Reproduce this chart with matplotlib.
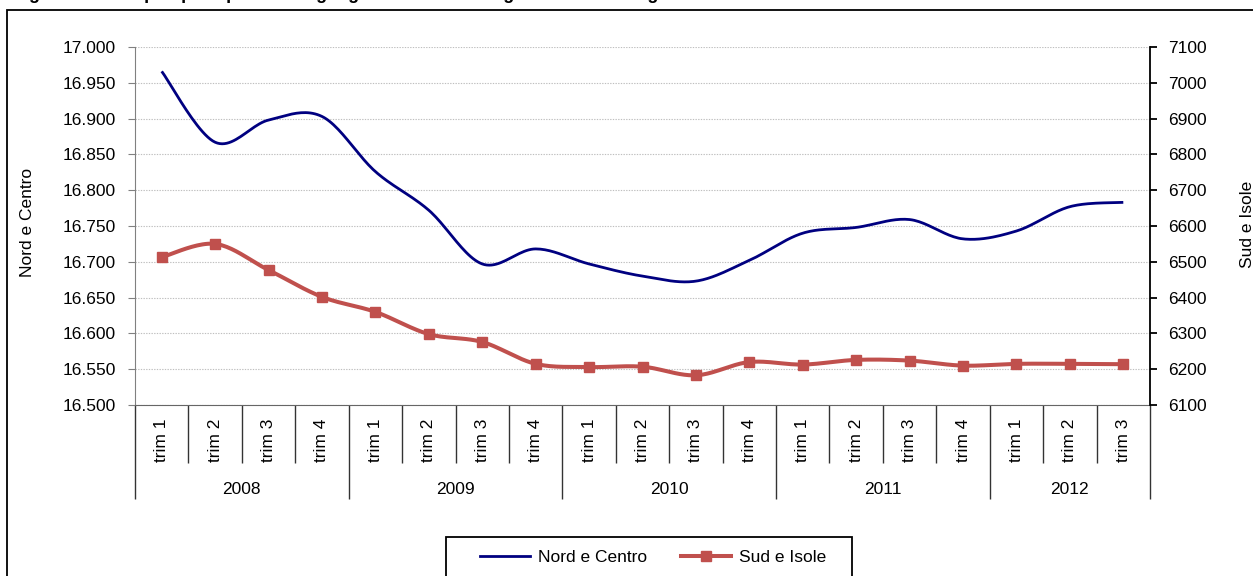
import matplotlib
matplotlib.use("Agg")
import matplotlib.pyplot as plt
from matplotlib.lines import Line2D
from matplotlib.patches import Rectangle
import numpy as np

plt.rcParams['font.family'] = ['Liberation Sans', 'DejaVu Sans']
plt.rcParams['font.size'] = 12.5

years = ['2008', '2009', '2010', '2011', '2012']
quarters_per_year = [4, 4, 4, 4, 3]
quarter_labels = ['trim 1', 'trim 2', 'trim 3', 'trim 4']

# occupati, migliaia
nord_centro = [16966, 16867, 16898, 16903, 16826, 16772, 16697, 16718, 16697, 16680,
               16673, 16702, 16740, 16748, 16759, 16732, 16743, 16777, 16783]
sud_isole = [6513, 6550, 6477, 6402, 6360, 6298, 6276, 6215, 6206, 6207,
             6183, 6220, 6213, 6226, 6224, 6210, 6215, 6215, 6214]

W, H = 1253, 576


def px(x, y):
    # pixel position (from top-left) -> figure fraction
    return x / W, 1 - y / H


def smooth(y, steps=24):
    # cubic bezier through every point, tangents like a spreadsheet "smoothed line"
    y = np.asarray(y, float)
    x = np.arange(len(y), dtype=float)
    pts = np.column_stack([x, y])
    ext = np.vstack([pts[0], pts, pts[-1]])
    out = []
    t = np.linspace(0, 1, steps)[:, None]
    for i in range(len(pts) - 1):
        p0, p3 = ext[i + 1], ext[i + 2]
        p1 = p0 + (ext[i + 2] - ext[i]) / 6
        p2 = p3 - (ext[i + 3] - ext[i + 1]) / 6
        seg = ((1 - t) ** 3) * p0 + 3 * ((1 - t) ** 2) * t * p1 + 3 * (1 - t) * t ** 2 * p2 + t ** 3 * p3
        out.append(seg if i == 0 else seg[1:])
    out = np.vstack(out)
    return out[:, 0], out[:, 1]


fig = plt.figure(figsize=(W / 100, H / 100), dpi=100)
l, t = px(135, 47)
r, b = px(1150, 405)
ax = fig.add_axes([l, b, r - l, t - b])
ax2 = ax.twinx()

n = len(nord_centro)
blue = '#000080'
red = '#C0504D'

xs, ys = smooth(nord_centro)
ax.plot(xs, ys, color=blue, lw=2.0, solid_capstyle='butt', zorder=3)
xs, ys = smooth(sud_isole)
ax2.plot(xs, ys, color=red, lw=2.9, zorder=3)
ax2.plot(np.arange(n), sud_isole, ls='none', marker='s', ms=6.5, color=red, zorder=4)

ax.set_xlim(-0.5, n - 0.5)
ax.set_ylim(16500, 17000)
ax.set_yticks(np.arange(16500, 17001, 50))
ax.set_yticklabels([f"{v:,.0f}".replace(',', '.') for v in np.arange(16500, 17001, 50)])
ax2.set_ylim(6100, 7100)
ax2.set_yticks(np.arange(6100, 7101, 100))

ax.yaxis.grid(True, color='#BFBFBF', linestyle=(0, (1.2, 1.2)), linewidth=0.8)
ax.set_axisbelow(True)

for s in ['top', 'right']:
    ax.spines[s].set_visible(False)
for s in ['top', 'left', 'bottom']:
    ax2.spines[s].set_visible(False)
ax.spines['left'].set_color('#808080')
ax.spines['bottom'].set_color('#666666')
ax2.spines['right'].set_color('black')
ax2.spines['right'].set_linewidth(1.3)

ax.tick_params(axis='y', direction='out', length=5, color='#808080', pad=9)
ax2.tick_params(axis='y', direction='out', length=5, color='black', width=1.3, pad=8)

# separators between quarters and years
edges_year = np.concatenate([[-0.5], np.cumsum(quarters_per_year) - 0.5])
ax.set_xticks(edges_year)
ax.set_xticks(np.arange(-0.5, n, 1.0), minor=True)
ax.set_xticklabels([])
ax.tick_params(axis='x', which='major', direction='out', length=68, color='#333333', width=1.0)
ax.tick_params(axis='x', which='minor', direction='out', length=42, color='#333333', width=1.0)

xt = ax.get_xaxis_transform()
i = 0
for year, q in zip(years, quarters_per_year):
    for k in range(q):
        ax.text(i + k, -0.098, quarter_labels[k], rotation=90, ha='center', va='center',
                transform=xt)
    ax.text(i + (q - 1) / 2, -0.237, year, ha='center', va='center', transform=xt)
    i += q

fig.text(*px(27.5, 222), 'Nord e Centro', rotation=90, ha='center', va='center')
fig.text(*px(1240, 224), 'Sud e Isole', rotation=90, ha='left', va='center')

fig.text(*px(13, -1), 'Figura 2 - Occupati per ripartizione geografica. Dati destagionalizzati in migliaia',
         ha='left', va='baseline', fontsize=13, fontweight='bold')

# outer frame and legend box
fx, fy = px(6.5, 9.5)
fig.patches.append(Rectangle((fx, -0.1), 1.2, fy + 0.1, transform=fig.transFigure,
                             fill=False, ec='black', lw=1.3))
lx0, ly0 = px(446, 590)
lx1, ly1 = px(852, 537)
fig.patches.append(Rectangle((lx0, ly0), lx1 - lx0, ly1 - ly0, transform=fig.transFigure,
                             fill=False, ec='black', lw=1.3))

handles = [Line2D([], [], color=blue, lw=2.0),
           Line2D([], [], color=red, lw=2.9, marker='s', ms=6.5)]
fig.legend(handles, ['Nord e Centro', 'Sud e Isole'], loc='center left',
           bbox_to_anchor=px(480, 557), ncol=2, frameon=False, borderpad=0,
           borderaxespad=0, handlelength=2.9, handletextpad=0.45, columnspacing=1.95)

fig.savefig('out.png', dpi=100)
